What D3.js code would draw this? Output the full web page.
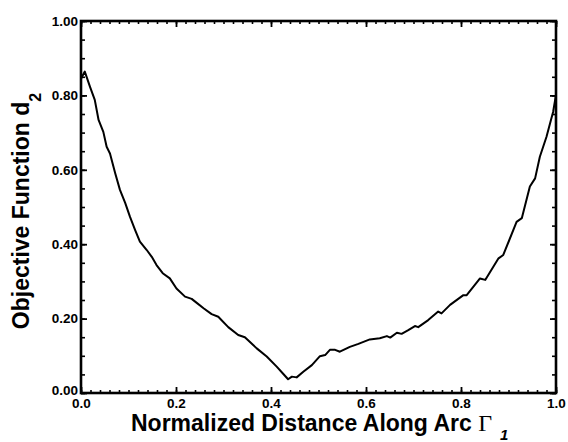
<!DOCTYPE html>
<html>
<head>
<meta charset="utf-8">
<script src="https://cdn.jsdelivr.net/npm/d3@7"></script>
<style>
  body { margin: 0; background: #fff; }
  svg { display: block; }
  text { font-family: "Liberation Sans", Arial, sans-serif; font-weight: bold; fill: #000; }
</style>
</head>
<body>
<svg id="chart" width="568" height="442"></svg>
<script>
// ---- data ----
const arcPos = [0.000,0.008,0.019,0.029,0.037,0.047,0.054,0.061,0.072,0.082,0.093,0.103,0.114,0.124,0.138,0.149,0.159,0.172,0.187,0.201,0.219,0.233,0.245,0.258,0.275,0.289,0.310,0.331,0.345,0.370,0.391,0.412,0.426,0.436,0.444,0.454,0.468,0.486,0.503,0.514,0.524,0.535,0.545,0.566,0.584,0.608,0.629,0.644,0.651,0.665,0.675,0.689,0.703,0.710,0.731,0.752,0.759,0.777,0.805,0.812,0.840,0.851,0.879,0.889,0.917,0.928,0.945,0.956,0.966,0.980,0.994,1.000];
const objective = [0.845,0.864,0.823,0.788,0.734,0.702,0.662,0.644,0.591,0.546,0.511,0.474,0.438,0.407,0.385,0.366,0.344,0.322,0.308,0.281,0.259,0.253,0.241,0.228,0.212,0.205,0.177,0.156,0.150,0.120,0.098,0.071,0.051,0.037,0.044,0.042,0.057,0.075,0.099,0.102,0.116,0.116,0.111,0.124,0.132,0.144,0.147,0.153,0.149,0.162,0.159,0.169,0.180,0.177,0.196,0.219,0.214,0.237,0.263,0.263,0.308,0.304,0.362,0.371,0.460,0.470,0.555,0.577,0.635,0.689,0.756,0.801];
const xMajorTicks = [0.0,0.2,0.4,0.6,0.8,1.0];
const xTickLabels = ["0.0","0.2","0.4","0.6","0.8","1.0"];
const yMajorTicks = [0.0,0.2,0.4,0.6,0.8,1.0];
const yTickLabels = ["0.00","0.20","0.40","0.60","0.80","1.00"];
const xMinorTicks = d3.range(0, 51).map(i => i * 0.02);
const yMinorTicks = d3.range(0, 21).map(i => i * 0.05);

const W = 568, H = 442;
const m = { left: 81, right: 12, top: 21, bottom: 49 };
const svg = d3.select("#chart");
const x = d3.scaleLinear().domain([0, 1]).range([m.left, W - m.right]);
const y = d3.scaleLinear().domain([0, 1]).range([H - m.bottom, m.top]);

function styleAxis(g, w) {
  g.select(".domain").remove();
  g.selectAll(".tick line").attr("stroke", "#000").attr("stroke-width", w);
}

// minor ticks (inward)
svg.append("g").attr("transform", `translate(0,${y(0)})`)
  .call(d3.axisBottom(x).tickValues(xMinorTicks).tickSize(-3).tickFormat(""))
  .call(g => styleAxis(g, 1.6));
svg.append("g").attr("transform", `translate(0,${y(1)})`)
  .call(d3.axisTop(x).tickValues(xMinorTicks).tickSize(-3).tickFormat(""))
  .call(g => styleAxis(g, 1.6));
svg.append("g").attr("transform", `translate(${x(0)},0)`)
  .call(d3.axisLeft(y).tickValues(yMinorTicks).tickSize(-4).tickFormat(""))
  .call(g => styleAxis(g, 1.6));
svg.append("g").attr("transform", `translate(${x(1)},0)`)
  .call(d3.axisRight(y).tickValues(yMinorTicks).tickSize(-4).tickFormat(""))
  .call(g => styleAxis(g, 1.6));

// major ticks with labels
const xb = svg.append("g").attr("transform", `translate(0,${y(0)})`)
  .call(d3.axisBottom(x).tickValues(xMajorTicks).tickSize(-6).tickPadding(5)
    .tickFormat((d, i) => xTickLabels[i]));
styleAxis(xb, 1.8);
xb.selectAll("text").attr("font-size", "13.5px").attr("font-weight", "bold")
  .attr("font-family", "Liberation Sans, Arial, sans-serif").attr("fill", "#000");

svg.append("g").attr("transform", `translate(0,${y(1)})`)
  .call(d3.axisTop(x).tickValues(xMajorTicks).tickSize(-6).tickFormat(""))
  .call(g => styleAxis(g, 1.8));

const yl = svg.append("g").attr("transform", `translate(${x(0)},0)`)
  .call(d3.axisLeft(y).tickValues(yMajorTicks).tickSize(-6).tickPadding(3)
    .tickFormat((d, i) => yTickLabels[i]));
styleAxis(yl, 1.8);
yl.selectAll("text").attr("font-size", "13.5px").attr("font-weight", "bold")
  .attr("font-family", "Liberation Sans, Arial, sans-serif").attr("fill", "#000");
yl.selectAll(".tick").filter(d => d === 0).select("text").attr("dy", "0.1em");

svg.append("g").attr("transform", `translate(${x(1)},0)`)
  .call(d3.axisRight(y).tickValues(yMajorTicks).tickSize(-6).tickFormat(""))
  .call(g => styleAxis(g, 1.8));

// frame
svg.append("rect")
  .attr("x", x(0)).attr("y", y(1))
  .attr("width", x(1) - x(0)).attr("height", y(0) - y(1))
  .attr("fill", "none").attr("stroke", "#000").attr("stroke-width", 2.6);

// curve
const pts = arcPos.map((v, i) => [v, objective[i]]);
svg.append("path")
  .datum(pts)
  .attr("fill", "none").attr("stroke", "#000").attr("stroke-width", 2)
  .attr("stroke-linejoin", "round")
  .attr("d", d3.line().x(d => x(d[0])).y(d => y(d[1])));

// x title
const xt = svg.append("text").attr("x", 131).attr("y", 431).attr("font-size", "23px");
xt.append("tspan").text("Normalized Distance Along Arc ");
xt.append("tspan").text("\u0393").attr("font-family", "Liberation Serif, Times New Roman, serif")
  .attr("font-weight", "normal").attr("font-size", "24px");
xt.append("tspan").text("1").attr("dx", 8).attr("dy", 9).attr("font-size", "15px").attr("font-style", "italic");

// y title
const yt = svg.append("text")
  .attr("transform", `translate(29,${y(0.5) + 4}) rotate(-90)`)
  .attr("text-anchor", "middle").attr("font-size", "23px");
yt.append("tspan").text("Objective Function d");
yt.append("tspan").text("2").attr("dy", 12).attr("font-size", "16px");
</script>
</body>
</html>
